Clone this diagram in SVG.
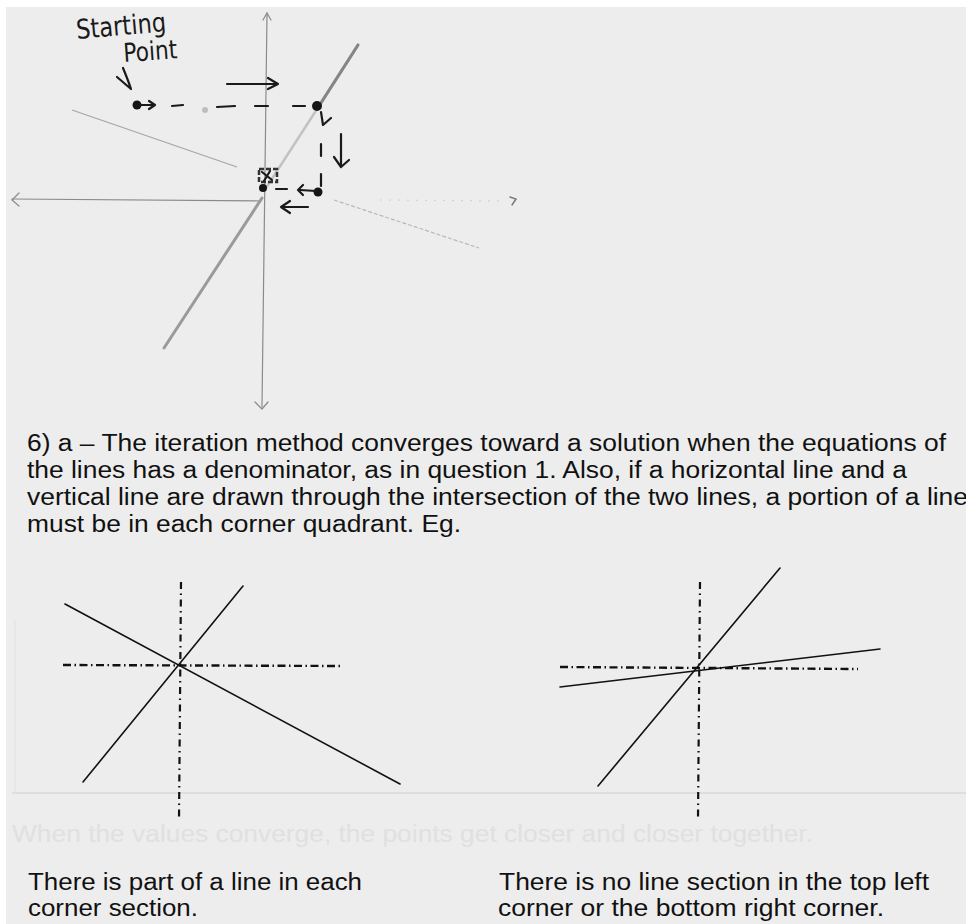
<svg xmlns="http://www.w3.org/2000/svg" width="966" height="924" viewBox="0 0 966 924">
<style>
.txt{font-family:"Liberation Sans",Arial,sans-serif;font-size:23.5px;fill:#111}
.ghost{font-family:"Liberation Sans",Arial,sans-serif;font-size:23.5px;fill:#e0e0e0}
.hand{font-family:"DejaVu Sans","Liberation Sans",sans-serif;fill:#1a1a1a}
.pen{fill:none;stroke:#1a1a1a;stroke-width:2.2;stroke-linecap:round;stroke-linejoin:round}
.axis{fill:none;stroke:#8a8a8a;stroke-width:1.2;stroke-linecap:round}
.solid{fill:none;stroke:#111;stroke-width:1.6;stroke-linecap:round}
.dd{fill:none;stroke:#111;stroke-width:2.4;stroke-dasharray:8 3.5 1.5 3.5}
.ddv{fill:none;stroke:#111;stroke-width:2.2;stroke-dasharray:7 4.5 1.5 4.5}
.dot{fill:#151515}
</style>
<rect width="966" height="924" fill="#ffffff"/>
<rect x="6" y="7" width="960" height="917" fill="#ededed"/>

<!-- faint show-through from the other side of the page -->
<g id="show-through">
  <line x1="12" y1="793" x2="966" y2="793" stroke="#d9d9d9" stroke-width="1.5"/>
  <line x1="15" y1="620" x2="15" y2="793" stroke="#e2e2e2" stroke-width="1.2"/>
  <text class="ghost" x="12" y="842" textLength="801" lengthAdjust="spacingAndGlyphs">When the values converge, the points get closer and closer together.</text>
</g>

<!-- hand-drawn iteration sketch -->
<g id="sketch">
  <g id="axes">
    <line class="axis" x1="267" y1="13" x2="262" y2="407"/>
    <path class="axis" d="M263,20 L267,13 L271,20"/>
    <path class="axis" d="M255,402 L262,409 L268,402"/>
    <line class="axis" x1="12" y1="199" x2="261" y2="201"/>
    <path class="axis" d="M19,193 L12,200 L19,206"/>
    <line x1="380" y1="200" x2="505" y2="201" stroke="#d2d2d2" stroke-width="1.2" stroke-dasharray="2 7"/>
    <path d="M510,197 L516,199 L512,205" fill="none" stroke="#777" stroke-width="1.4" stroke-linecap="round"/>
  </g>
  <g id="pencil-lines">
    <line x1="72" y1="110" x2="237" y2="167" stroke="#a6a6a6" stroke-width="1.3"/>
    <line x1="334" y1="200" x2="479" y2="248" stroke="#b8b8b8" stroke-width="1.2" stroke-dasharray="4 2"/>
    <line x1="358" y1="45" x2="319" y2="106" stroke="#858585" stroke-width="3.2" stroke-linecap="round"/>
    <line x1="319" y1="106" x2="266" y2="188" stroke="#c2c2c2" stroke-width="2.5"/>
    <line x1="262" y1="198" x2="164" y2="348" stroke="#9a9a9a" stroke-width="3" stroke-linecap="round"/>
  </g>
  <g id="starting-label">
    <text class="hand" font-size="27" x="77" y="39" transform="rotate(-5 77 39)" textLength="90" lengthAdjust="spacingAndGlyphs">Starting</text>
    <text class="hand" font-size="26" x="124" y="62" transform="rotate(-4 124 62)" textLength="54" lengthAdjust="spacingAndGlyphs">Point</text>
    <path class="pen" d="M123,68 Q128,80 131,89 M117,77 L131,89"/>
  </g>
  <g id="iteration-path">
    <circle class="dot" cx="137" cy="105" r="4.5"/>
    <path class="pen" d="M140,105 L154,105 M149,101 L155,105 L149,109"/>
    <path class="pen" stroke-width="3" d="M172,106 L183,105 M217,107 L235,106 M255,106 L268,106 M293,106 L305,106"/>
    <circle cx="205" cy="110" r="3" fill="#bdbdbd"/>
    <circle class="dot" cx="317" cy="106" r="5"/>
    <path class="pen" d="M227,84 L278,84 M268,78 L278,84 L268,89"/>
    <path class="pen" d="M321,112 L323,125 L331,118"/>
    <path class="pen" stroke-width="3" d="M321,144 L321,156 M321,174 L321,186"/>
    <path class="pen" d="M341,134 L341,166 M334,157 L341,167 L349,160"/>
    <circle class="dot" cx="318" cy="192" r="4.5"/>
    <path class="pen" stroke-width="3.5" d="M316,191 L300,190"/>
    <path class="pen" d="M303,185 L298,190 L303,195"/>
    <path class="pen" stroke-width="2.5" d="M276,189 L287,189"/>
    <circle class="dot" cx="263" cy="188" r="4"/>
    <rect x="259" y="169" width="18" height="13" fill="none" stroke="#333" stroke-width="2.5" stroke-dasharray="5 2"/>
    <path class="pen" d="M262,172 L272,180 M270,171 L264,181"/>
    <path class="pen" d="M308,207 L281,207 M290,201 L281,207 L290,213"/>
  </g>
</g>

<!-- explanation paragraph -->
<g id="paragraph" class="txt">
  <text x="27" y="451" textLength="919" lengthAdjust="spacingAndGlyphs">6) a – The iteration method converges toward a solution when the equations of</text>
  <text x="27" y="478" textLength="880" lengthAdjust="spacingAndGlyphs">the lines has a denominator, as in question 1.  Also, if a horizontal line and a</text>
  <text x="27" y="505" textLength="941" lengthAdjust="spacingAndGlyphs">vertical line are drawn through the intersection of the two lines, a portion of a line</text>
  <text x="27" y="532" textLength="434" lengthAdjust="spacingAndGlyphs">must be in each corner quadrant. Eg.</text>
</g>

<!-- example: converging -->
<g id="example-left">
  <line class="ddv" x1="181" y1="582" x2="179" y2="820"/>
  <line class="dd" x1="63" y1="665" x2="343" y2="666"/>
  <line class="solid" x1="243" y1="586" x2="83" y2="782"/>
  <line class="solid" x1="65" y1="604" x2="400" y2="784"/>
</g>

<!-- example: not converging -->
<g id="example-right">
  <line class="ddv" x1="700" y1="582" x2="698" y2="818"/>
  <line class="dd" x1="560" y1="667" x2="858" y2="669"/>
  <line class="solid" x1="780" y1="568" x2="598" y2="786"/>
  <line class="solid" stroke-width="2" x1="560" y1="687" x2="880" y2="649"/>
</g>

<g id="captions" class="txt">
  <text x="28" y="890" textLength="334" lengthAdjust="spacingAndGlyphs">There is part of a line in each</text>
  <text x="28" y="916" textLength="170" lengthAdjust="spacingAndGlyphs">corner section.</text>
  <text x="499" y="890" textLength="430" lengthAdjust="spacingAndGlyphs">There is no line section in the top left</text>
  <text x="498" y="916" textLength="386" lengthAdjust="spacingAndGlyphs">corner or the bottom right corner.</text>
</g>
</svg>
